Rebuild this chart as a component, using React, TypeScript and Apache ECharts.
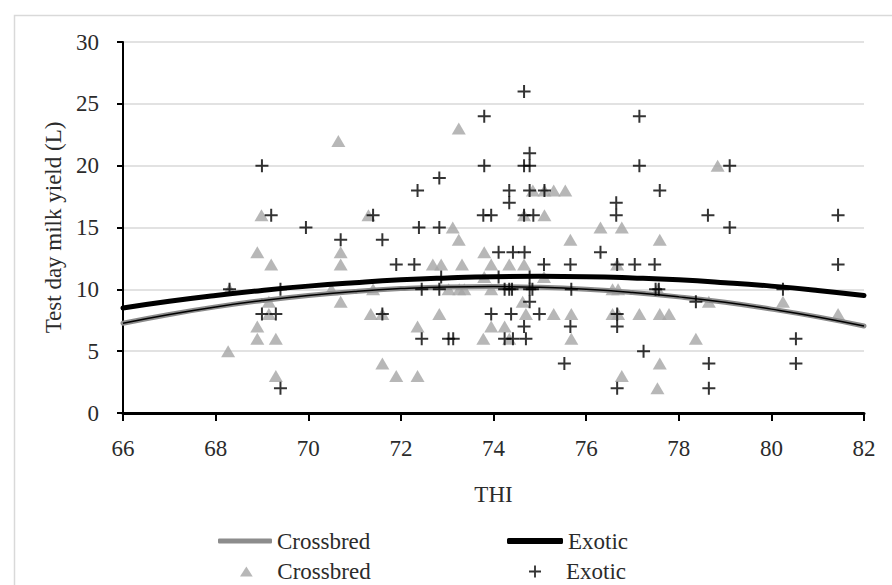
import React, { useEffect, useRef } from "react";
import * as echarts from "echarts";

// Fitted curves at each integer THI
const thiCurve = [66, 67, 68, 69, 70, 71, 72, 73, 74, 75, 76, 77, 78, 79, 80, 81, 82];
const crossbredFit = [7.26, 7.97, 8.58, 9.09, 9.51, 9.83, 10.06, 10.19, 10.22, 10.16, 10.0, 9.74, 9.39, 8.95, 8.4, 7.77, 7.03];
const exoticFit = [8.49, 9.03, 9.5, 9.91, 10.26, 10.54, 10.77, 10.92, 11.02, 11.05, 11.02, 10.92, 10.77, 10.54, 10.26, 9.91, 9.5];

// Crossbred observations (triangles)
const crossbredTHI = [
  70.65, 68.99, 71.3, 68.9, 69.2, 70.7, 70.7, 68.3, 69.15, 69.15, 68.9, 68.9, 69.3, 68.27, 69.3, 70.5, 70.7, 71.4, 71.35, 71.6, 71.6, 71.9,
  73.25, 74.85, 75.1, 75.3, 75.55, 74.66, 75.1, 73.12, 76.31, 76.77, 73.25, 75.66, 73.8,
  72.69, 72.87, 73.32, 73.95, 74.34, 74.66, 76.67, 73.8, 75.09,
  73.03, 73.26, 73.37, 73.95, 76.57, 76.69, 74.63,
  72.83, 74.7, 75.3, 75.68, 76.57, 76.69, 77.15,
  72.36, 73.95, 74.24, 73.78, 74.34, 75.68, 72.36, 76.77,
  78.84, 77.59, 77.55, 78.65, 80.25, 81.44, 77.59, 77.79, 78.37, 77.59, 77.54,
];
const crossbredYield = [
  22, 16, 16, 13, 12, 13, 12, 10, 9, 8, 7, 6, 6, 5, 3, 10, 9, 10, 8, 8, 4, 3,
  23, 18, 18, 18, 18, 16, 16, 15, 15, 15, 14, 14, 13,
  12, 12, 12, 12, 12, 12, 12, 11, 11,
  10, 10, 10, 10, 10, 10, 9,
  8, 8, 8, 8, 8, 8, 8,
  7, 7, 7, 6, 6, 6, 3, 3,
  20, 14, 10, 9, 9, 8, 8, 8, 6, 4, 2,
];

// Exotic observations (crosses)
const exoticTHI = [
  69.0, 69.2, 69.95, 71.4, 70.7, 71.6, 71.9, 68.3, 69.4, 69.0, 69.3, 69.4, 71.6,
  74.66, 73.8, 77.15, 73.8, 74.66, 74.78, 74.78, 77.15, 72.83,
  72.36, 74.34, 74.78, 75.1, 74.34, 76.65, 76.65, 73.78, 73.95, 74.66, 74.86,
  72.39, 72.83, 76.31, 74.11, 74.42, 74.67,
  72.29, 75.09, 75.66, 76.67, 77.05, 72.87, 74.11, 74.78,
  72.45, 72.83, 74.24, 74.34, 74.4, 74.78, 74.84, 75.68, 74.78,
  73.95, 74.38, 74.99, 76.67, 76.67, 74.66, 75.66,
  72.45, 73.03, 73.13, 74.24, 74.42, 74.7, 75.53, 76.67,
  79.1, 77.59, 78.63, 81.44, 79.1, 77.48, 81.44, 77.5, 77.57, 78.37, 80.25, 80.53, 77.24, 78.65, 80.53, 78.65,
];
const exoticYield = [
  20, 16, 15, 16, 14, 14, 12, 10, 10, 8, 8, 2, 8,
  26, 24, 24, 20, 20, 20, 21, 20, 19,
  18, 18, 18, 18, 17, 17, 16, 16, 16, 16, 16,
  15, 15, 13, 13, 13, 13,
  12, 12, 12, 12, 12, 11, 11, 11,
  10, 10, 10, 10, 10, 10, 10, 10, 9,
  8, 8, 8, 8, 7, 7, 7,
  6, 6, 6, 6, 6, 6, 4, 2,
  20, 18, 16, 16, 15, 12, 12, 10, 10, 9, 10, 6, 5, 4, 4, 2,
];

const xTicks = { min: 66, max: 82, interval: 2 };
const yTicks = { min: 0, max: 30, interval: 5 };

const FONT = "'Liberation Serif', 'DejaVu Serif', serif";
const TEXT = "#2b2b2b";
const PLUS = "path://M5.5,0H7.5V5.5H13V7.5H7.5V13H5.5V7.5H0V5.5H5.5Z";
const TRI = "path://M7,0L14,11H0Z";

export default function App() {
  const ref = useRef<HTMLDivElement>(null);
  useEffect(() => {
    if (!ref.current) return;
    const chart = echarts.init(ref.current, null, { renderer: "svg" });
    const pairs = (xs: number[], ys: number[]) => xs.map((x, i) => [x, ys[i]]);
    const legendText = (lh: number) => ({ fontSize: 23, color: TEXT, fontFamily: FONT, lineHeight: lh });
    const trim = (n: string) => n.trim();
    chart.setOption({
      animation: false,
      backgroundColor: "#ffffff",
      textStyle: { fontFamily: FONT },
      grid: { left: 123, right: 28, top: 42, bottom: 172, containLabel: false },
      graphic: [
        {
          type: "rect",
          silent: true,
          z: -10,
          shape: { x: 14.5, y: 15.5, width: 1000, height: 1000 },
          style: { fill: "none", stroke: "#d9d9d9", lineWidth: 1.5 },
        },
      ],
      xAxis: {
        type: "value",
        ...xTicks,
        name: "THI",
        nameLocation: "middle",
        nameGap: 70,
        nameTextStyle: { fontSize: 23, color: TEXT, fontFamily: FONT },
        axisLine: { show: true, onZero: false, lineStyle: { color: "#000", width: 3 } },
        axisTick: { show: true, length: 8, lineStyle: { color: "#000", width: 2 } },
        axisLabel: { fontSize: 23, color: TEXT, margin: 24, fontFamily: FONT },
        splitLine: { show: false },
      },
      yAxis: {
        type: "value",
        ...yTicks,
        name: "Test day milk yield (L)",
        nameLocation: "middle",
        nameGap: 56,
        nameTextStyle: { fontSize: 23, color: TEXT, fontFamily: FONT },
        axisLine: { show: true, onZero: false, lineStyle: { color: "#000", width: 2 } },
        axisTick: { show: true, length: 6, lineStyle: { color: "#000", width: 2 } },
        axisLabel: { fontSize: 23, color: TEXT, margin: 24, fontFamily: FONT },
        splitLine: { show: true, lineStyle: { color: "#d9d9d9", width: 1.5 } },
      },
      legend: [
        {
          data: [{ name: "Crossbred", icon: "roundRect" }],
          left: 218,
          top: 528,
          padding: 0,
          itemWidth: 54,
          itemHeight: 5,
          selectedMode: false,
          textStyle: legendText(26),
        },
        {
          data: [{ name: "Exotic", icon: "roundRect" }],
          left: 507,
          top: 528,
          padding: 0,
          itemWidth: 56,
          itemHeight: 6,
          selectedMode: false,
          textStyle: legendText(26),
        },
        {
          data: [{ name: "Crossbred ", icon: TRI }],
          formatter: trim,
          left: 240,
          top: 560,
          padding: 0,
          itemWidth: 52,
          itemHeight: 10,
          selectedMode: false,
          textStyle: legendText(20),
        },
        {
          data: [{ name: "Exotic ", icon: PLUS }],
          formatter: trim,
          left: 529,
          top: 560,
          padding: 0,
          itemWidth: 52,
          itemHeight: 12,
          selectedMode: false,
          textStyle: legendText(20),
        },
      ],
      series: [
        {
          name: "Crossbred ",
          type: "scatter",
          symbol: "triangle",
          symbolSize: [14, 12],
          itemStyle: { color: "#a5a5a5" },
          data: pairs(crossbredTHI, crossbredYield),
          z: 2,
        },
        {
          name: "Crossbred",
          type: "line",
          smooth: true,
          symbol: "none",
          showSymbol: false,
          lineStyle: { color: "#8c8c8c", width: 5, cap: "round" },
          itemStyle: { color: "#8c8c8c" },
          data: pairs(thiCurve, crossbredFit),
          z: 3,
        },
        {
          name: "Crossbred fit",
          type: "line",
          smooth: true,
          symbol: "none",
          showSymbol: false,
          silent: true,
          lineStyle: { color: "#000", width: 1.5 },
          data: pairs(thiCurve, crossbredFit),
          z: 4,
        },
        {
          name: "Exotic",
          type: "line",
          smooth: true,
          symbol: "none",
          showSymbol: false,
          lineStyle: { color: "#000", width: 5, cap: "round" },
          itemStyle: { color: "#000" },
          data: pairs(thiCurve, exoticFit),
          z: 4,
        },
        {
          name: "Exotic ",
          type: "scatter",
          symbol: PLUS,
          symbolSize: 13,
          itemStyle: { color: "#000" },
          data: pairs(exoticTHI, exoticYield),
          z: 5,
        },
      ],
    });
    return () => chart.dispose();
  }, []);
  return (
    <div
      ref={ref}
      style={{ position: "absolute", left: 0, top: 0, width: 892, height: 585, background: "#fff" }}
    />
  );
}
